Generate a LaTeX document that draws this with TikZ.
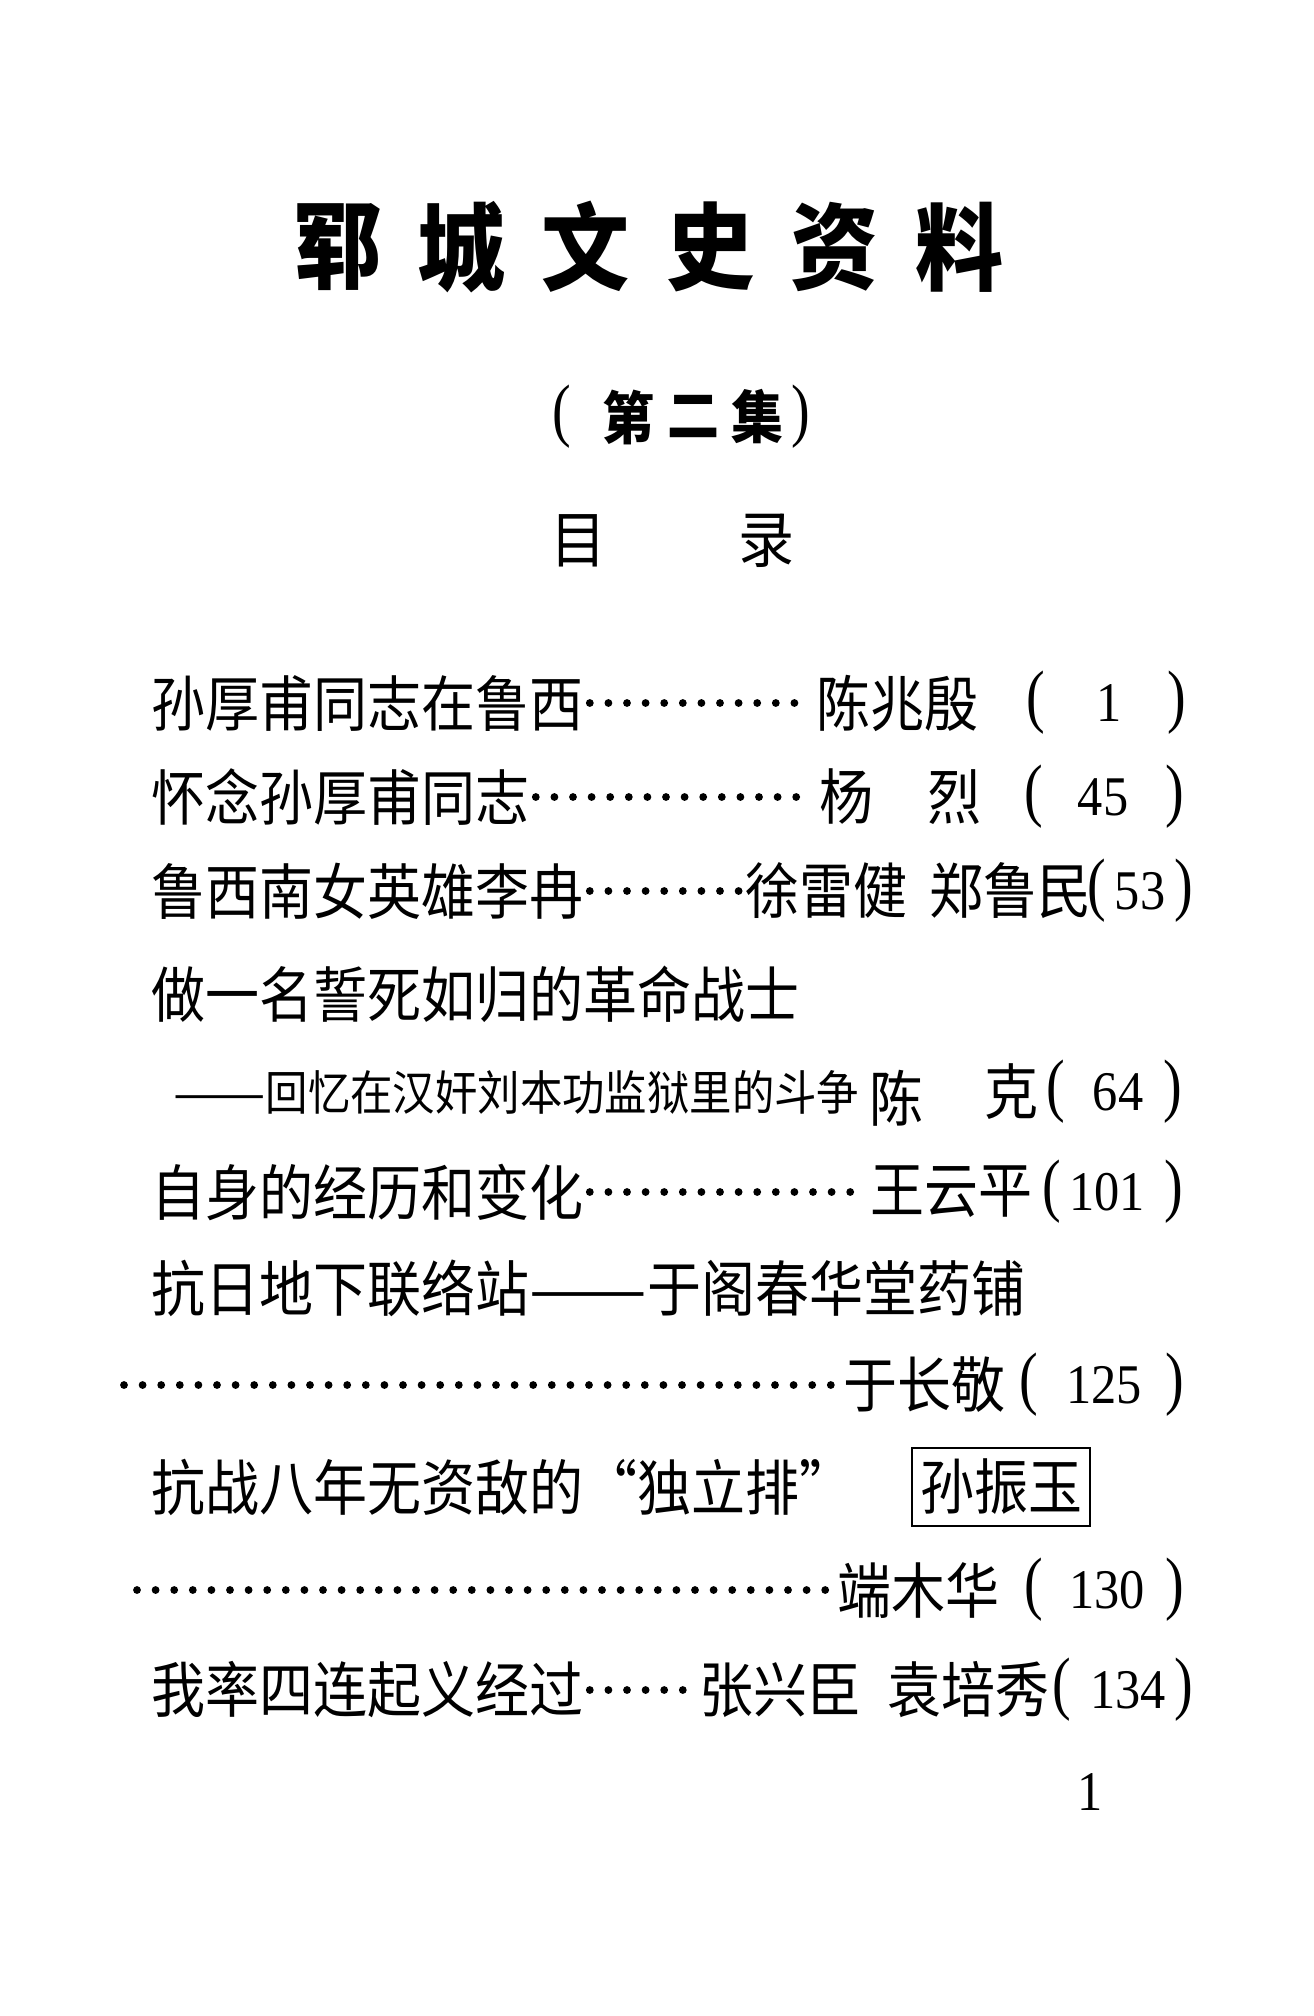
\documentclass[tikz,border=0pt]{standalone}
\usepackage{fontspec}
\newfontfamily\cjk{Noto Sans CJK SC}
\newfontfamily\numfont{Liberation Serif}
\tikzset{
  ttl/.style={font=\cjk\bfseries\fontsize{44pt}{44pt}\selectfont, inner sep=0pt, yscale=1.08},
  vol/.style={font=\cjk\bfseries\fontsize{26pt}{26pt}\selectfont, inner sep=0pt, yscale=1.1},
  hd/.style={font=\cjk\fontsize{28pt}{28pt}\selectfont, inner sep=0pt, yscale=1.1},
  entry/.style={font=\cjk\fontsize{27pt}{27pt}\selectfont, inner sep=0pt, yscale=1.12},
  small/.style={font=\cjk\fontsize{21.2pt}{21.2pt}\selectfont, inner sep=0pt, yscale=1.12},
  num/.style={font=\numfont\fontsize{28pt}{28pt}\selectfont, inner sep=0pt, xscale=.9},
  par/.style={font=\numfont\fontsize{35pt}{35pt}\selectfont, inner sep=0pt, xscale=.8},
  leader/.style={line width=3.9pt, line cap=round, dash pattern=on 0pt off 9.3pt, shorten <=3pt, shorten >=3pt},
}
\begin{document}
\begin{tikzpicture}[x=.5pt,y=-.5pt]
	\useasboundingbox (0,0) rectangle (1313,2016);
	% heading
	\foreach \c [count=\i] in {郓,城,文,史,资,料}
		\node[ttl] (ttl\i) at ({337+124.4*(\i-1)},247) {\c};
	\node[par] (vl) at (562,417) {(};
	\node[vol] (v1) at (628,417) {第};
	\node[vol] (v2) at (693,417) {二};
	\node[vol] (v3) at (757,417) {集};
	\node[par] (vr) at (801,417) {)};
	\node[hd] (mu) at (578,541) {目};
	\node[hd] (lu) at (766,541) {录};
	% entries
	\node[entry,anchor=west] (t1) at (151,703) {孙厚甫同志在鲁西};
	\node[entry] (a1) at (897,703) {陈兆殷};
	\node[par] (l1) at (1036,703) {(};
	\node[num] (n1) at (1109,703) {1};
	\node[par] (r1) at (1177,703) {)};
	\draw[leader] (t1) -- (a1);

	\node[entry,anchor=west] (t2) at (151,797) {怀念孙厚甫同志};
	\node[entry] (a2) at (846,797) {杨};
	\node[entry] (b2) at (954,797) {烈};
	\node[par] (l2) at (1034,797) {(};
	\node[num] (n2) at (1103,797) {45};
	\node[par] (r2) at (1175,797) {)};
	\draw[leader] (t2) -- (a2);

	\node[entry,anchor=west] (t3) at (151,891) {鲁西南女英雄李冉};
	\node[entry] (a3) at (826,891) {徐雷健};
	\node[entry] (b3) at (1010,891) {郑鲁民};
	\node[par] (l3) at (1097,891) {(};
	\node[num] (n3) at (1140,891) {53};
	\node[par] (r3) at (1184,891) {)};
	\draw[leader] (t3) -- (a3);

	\node[entry,anchor=west] (t4) at (151,994) {做一名誓死如归的革命战士};
	\node[small,anchor=west] (t5) at (173,1092) {\scalebox{1.3}[1]{——}回忆在汉奸刘本功监狱里的斗争};
	\node[entry] (a5) at (896,1098) {陈};
	\node[entry] (b5) at (1011,1092) {克};
	\node[par] (l5) at (1056,1092) {(};
	\node[num] (n5) at (1118,1092) {64};
	\node[par] (r5) at (1173,1092) {)};

	\node[entry,anchor=west] (t6) at (151,1192) {自身的经历和变化};
	\node[entry] (a6) at (951,1192) {王云平};
	\node[par] (l6) at (1052,1192) {(};
	\node[num] (n6) at (1107,1192) {101};
	\node[par] (r6) at (1174,1192) {)};
	\draw[leader] (t6) -- (a6);

	\node[entry,anchor=west] (t7) at (151,1288) {抗日地下联络站\scalebox{1.3}[1]{——}于阁春华堂药铺};
	\coordinate (s8) at (118,1385);
	\node[entry] (a8) at (924,1385) {于长敬};
	\node[par] (l8) at (1029,1385) {(};
	\node[num] (n8) at (1104,1385) {125};
	\node[par] (r8) at (1175,1385) {)};
	\draw[leader] (s8) -- (a8);

	\node[entry,anchor=west] (t9) at (151,1487) {抗战八年无资敌的“独立排”};
	\node[entry,draw,line width=1pt,inner xsep=4pt,inner ysep=5pt] (a9) at (1001,1487) {孙振玉};
	\coordinate (s10) at (131,1590);
	\node[entry] (a10) at (918,1590) {端木华};
	\node[par] (l10) at (1034,1590) {(};
	\node[num] (n10) at (1107,1590) {130};
	\node[par] (r10) at (1175,1590) {)};
	\draw[leader] (s10) -- (a10);

	\node[entry,anchor=west] (t11) at (151,1690) {我率四连起义经过};
	\node[entry] (a11) at (780,1690) {张兴臣};
	\node[entry] (b11) at (968,1690) {袁培秀};
	\node[par] (l11) at (1062,1690) {(};
	\node[num] (n11) at (1128,1690) {134};
	\node[par] (r11) at (1184,1690) {)};
	\draw[leader] (t11) -- (a11);
	% page number
	\node[num] (pg) at (1090,1792) {1};
\end{tikzpicture}
\end{document}
